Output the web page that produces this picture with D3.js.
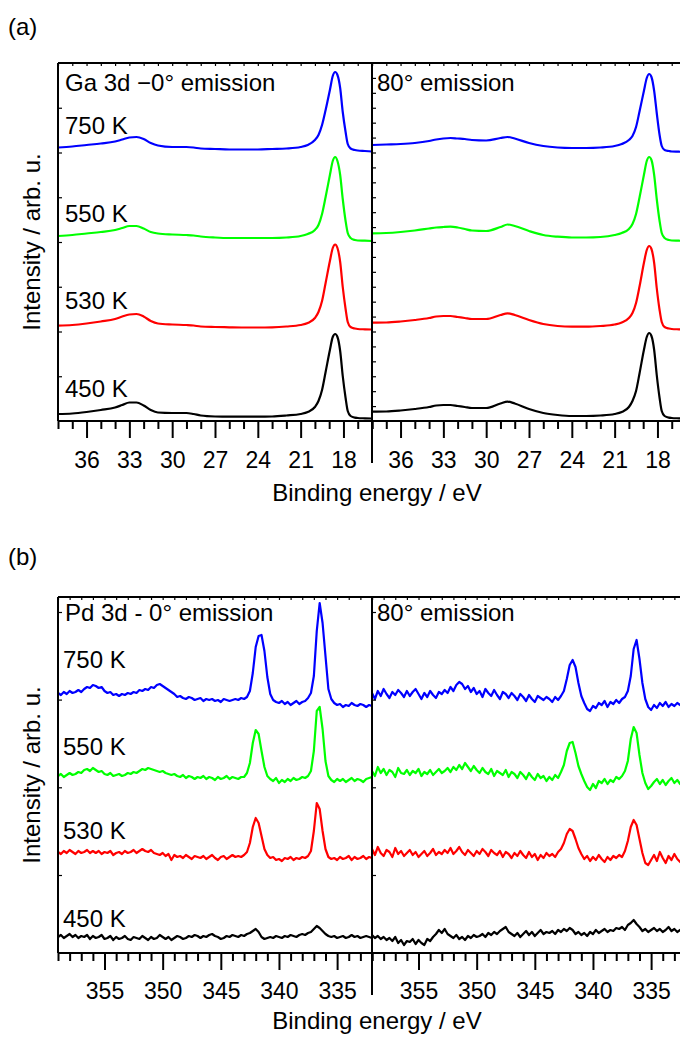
<!DOCTYPE html>
<html><head><meta charset="utf-8">
<script src="https://cdn.jsdelivr.net/npm/d3@7"></script>
<style>
body{margin:0;background:#fff}
svg{display:block}
text{font-family:"Liberation Sans",Arial,Helvetica,sans-serif;fill:#000}
</style>
</head><body>
<svg id="c" width="680" height="1041"></svg>
<script>
// ---------------- DATA ----------------
const temps = ["450 K", "530 K", "550 K", "750 K"];
const colors = ["#000000", "#ff0000", "#00ff00", "#0000ff"];

// Panel (a): Ga 3d, binding energy grid (eV)
const gaEnergy = [38, 37, 36, 35, 34, 33.5, 33, 32.5, 32, 31.5, 31, 30, 29, 28.5, 28, 27, 26, 25, 24, 23, 22, 21, 20.5, 20, 19.75, 19.5, 19.25, 18.95, 18.75, 18.58, 18.42, 18.23, 18.05, 17.85, 17.7, 17.5, 17.2, 17, 16.5, 16];
const gaOffsets = [0, 88, 178, 266];
// 0 deg emission
const ga0_450 = [7, 7.5, 9, 11, 13.5, 16, 18.5, 18.5, 15.5, 11, 8.5, 8, 8, 7, 5.5, 4.5, 4.3, 4.3, 4.3, 4.5, 5.5, 7, 9, 14, 20, 31, 49, 71, 84, 87, 84, 70, 45, 23, 10, 5, 3.3, 3, 2.7, 2.5];
const ga0_530 = [7.3, 8, 9.5, 11.5, 14, 16.5, 18.5, 19, 16.5, 12, 9.5, 8.5, 8, 7.5, 6.5, 6, 5.7, 5.5, 5.5, 5.7, 6.5, 8, 10, 15, 21, 32, 50, 72, 85, 88.5, 85, 71, 46, 24, 11, 6, 4.5, 4, 3.7, 3.5];
const ga0_550 = [7, 8, 9.5, 11, 13, 15, 17, 17, 14.5, 11, 9.5, 8.5, 8, 7.5, 6.5, 5.5, 5, 5, 5, 5, 5.5, 7, 9, 13, 18, 29, 46, 68, 82, 86, 82, 68, 44, 22, 10, 5, 3, 2.5, 2.3, 2];
const ga0_750 = [7.5, 8.5, 10, 11.5, 13.5, 15.5, 17.5, 18, 16, 12, 9.5, 8, 8, 7.5, 6.5, 6, 5.5, 5.5, 5.5, 6, 6.5, 8, 10, 15, 20, 30, 45, 65, 79, 83, 80, 67, 43, 23, 11, 6.5, 5, 4.5, 4, 3.5];
// 80 deg emission
const ga80_450 = [9.3, 9.5, 10.5, 12, 14, 15.5, 16, 16, 15, 14, 13, 13, 17.5, 19.3, 17.5, 12, 8, 6, 5, 5, 5.5, 7, 9, 14, 20, 30, 48, 71, 84, 88, 85, 71, 46, 23, 10, 5, 3.3, 3, 2.7, 2.5];
const ga80_530 = [10.3, 10.5, 11.5, 13, 15, 16.5, 17, 17, 16, 15, 14, 14, 18, 19.7, 18, 13, 9, 7, 6.3, 6.3, 7, 8.5, 10.5, 15, 20, 30, 47, 70, 83, 87, 84, 70, 45, 23, 11, 6, 4.5, 4, 3.7, 3.5];
const ga80_550 = [9.7, 10, 11, 12.5, 14.5, 15.5, 16, 16.3, 15.5, 14, 12.5, 12, 16, 18.5, 17, 12, 8, 6.3, 5.5, 5.5, 6, 8, 10, 14, 19, 29, 46, 68, 82, 86, 83, 68, 44, 22, 10, 5, 3, 2.5, 2.3, 2];
const ga80_750 = [10, 10.5, 11, 12, 14, 15.5, 16.5, 17, 16.5, 16, 15, 14.5, 17, 18, 16.5, 12, 9, 7.5, 7, 7, 7.5, 9, 11, 15, 19, 28, 44, 64, 77, 81, 78, 64, 42, 20, 9, 5, 4, 3.5, 3.3, 3];
const gaMajor = [36, 33, 30, 27, 24, 21, 18];
const gaMinor = [38, 37, 35, 34, 32, 31, 29, 28, 26, 25, 23, 22, 20, 19, 17, 16];

// Panel (b): Pd 3d, spectra recorded from 359 eV down in 0.25 eV steps
const pdStart = 359, pdStep = 0.25;
const pdOffsets = [0, 84, 162, 242];
const pd0_450 = [16,18,15,17,19,16,18,15,17,16,18,14,17, 15,16,18,14,15,17,13,16,14,15,17,14, 13,16,15,14,17,15,13,16,14,15,18,16, 14,16,13,15,17,16,14,15,17,16,18,17, 15,17,16,18,19,17,16,14,15,17,16,18, 17,16,18,17,19,20,22,24,21,16,14,15, 16,15,17,16,15,17,16,18,17,16,18,19, 18,20,21,24,27,25,22,19,17,16,17,15, 16,17,15,16,18,16,17,15,16,17,16,15];
const pd0_530 = [17,15,18,16,19,17,15,18,16,17,19,16,18, 16,18,15,17,16,18,14,16,17,15,18,16, 17,19,16,18,20,18,17,19,16,15,14,16, 13,15,9,14,12,13,11,14,12,10,13,12, 11,13,10,12,14,11,9,12,13,10,12,14, 12,13,12,14,17,26,42,51,46,33,20,14, 11,12,9,10,8,11,10,12,9,11,10,12, 11,13,18,38,66,60,38,20,12,10,11,9, 12,10,11,13,9,12,10,11,13,10,12,11];
const pd0_550 = [15,17,14,16,18,16,17,19,18,21,22,20,23, 21,19,20,17,16,18,15,16,17,15,16,18, 17,19,18,20,22,21,23,22,21,20,19,20, 18,17,16,17,15,14,16,13,15,14,12,14, 13,15,12,14,13,11,14,12,13,15,12,14, 13,12,14,14,18,28,48,61,57,40,24,15, 12,10,13,8,11,9,12,10,13,11,12,14, 13,15,20,40,80,84,62,30,15,11,9,12, 10,12,9,11,13,10,12,11,9,12,13,14];
const pd0_750 = [18,16,19,17,20,18,19,21,19,22,24,23,26, 25,23,24,20,18,19,16,17,15,17,16,18, 17,19,18,21,20,22,21,24,23,26,27,25, 23,21,19,17,14,15,13,12,14,13,11,12, 13,10,12,11,12,10,11,9,12,11,10,11, 12,11,13,12,14,20,38,64,75,76,60,34, 17,11,9,8,10,7,9,6,8,10,7,9, 10,13,18,35,80,108,88,55,22,12,8,6, 7,4,6,5,8,6,5,7,6,4,6,5];
const pd80_450 = [18,15,17,14,16,13,15,12,16,10,13,8,12, 11,14,9,13,10,8,14,12,16,19,23,20, 24,19,17,15,18,14,16,13,17,15,18,16, 17,19,16,20,18,21,19,22,24,26,21,19, 17,20,16,19,22,18,21,17,20,23,19,21, 20,22,19,23,21,24,22,25,23,19,21,18, 20,17,21,19,23,20,22,24,21,23,22,25, 24,26,23,28,30,33,29,26,22,24,21,23, 25,22,24,21,23,26,22,24,21,23,25,22];
const pd80_530 = [20,14,22,16,13,19,17,12,21,15,18,13,16, 19,14,17,12,15,18,13,16,20,14,17,15, 19,16,21,15,18,22,17,14,19,16,13,18, 15,20,17,13,19,16,14,18,12,17,15,11, 16,13,18,14,11,17,12,15,9,14,11,16, 13,15,12,17,20,26,35,40,38,30,21,15, 10,13,8,12,9,14,10,7,12,9,13,11, 14,12,18,28,42,49,44,30,16,6,4,9, 14,8,17,11,6,13,9,15,10,7,12,9];
const pd80_550 = [20,15,24,18,22,16,21,19,14,23,18,17,21, 16,20,18,22,15,19,17,21,16,19,22,18, 20,23,19,24,21,26,22,28,24,20,25,21, 18,23,19,17,22,15,20,18,16,21,14,19, 17,13,19,16,12,18,14,11,17,13,15,10, 14,11,16,13,19,26,40,48,49,38,25,17, 10,4,1,7,3,10,8,12,7,11,9,14, 12,15,20,30,52,64,58,36,18,8,2,5, 9,12,7,11,6,10,13,8,11,7,12,9];
const pd80_750 = [18,12,20,15,22,17,13,19,16,21,18,14,20, 15,19,22,17,12,18,14,20,16,13,19,17, 21,18,24,20,26,29,27,22,25,19,23,17, 20,14,22,18,15,21,16,12,19,17,13,18, 15,11,17,14,10,16,12,9,15,13,11,14, 12,9,14,11,15,20,32,46,51,44,28,15, 8,2,0,5,3,8,6,10,4,9,7,11, 8,12,14,20,35,62,71,52,28,12,4,1, 6,3,8,5,9,4,7,5,8,6,4,7];
const pdMajor = [355, 350, 345, 340, 335];
const pdMinor = [359, 358, 357, 356, 354, 353, 352, 351, 349, 348, 347, 346, 344, 343, 342, 341, 339, 338, 337, 336, 334, 333, 332];

const pdEnergy = pd0_450.map((_, i) => pdStart - i * pdStep);

// ---------------- DRAWING ----------------
const svg = d3.select("#c");
const FONT = 24;

function drawPanel(p) {
  const g = svg.append("g");
  const y = d3.scaleLinear().domain(p.yDomain).range([p.axisY, p.topY]);
  p.halves.forEach((h, hi) => {
    const x = d3.scaleLinear().domain(p.xDomain).range(h.range);
    const line = d3.line()
      .defined(d => d[1] != null && !isNaN(d[1]))
      .x(d => x(d[0])).y(d => y(d[1])).curve(p.curve);
    h.series.forEach((s, k) => {
      const pts = p.energy.map((e, i) => [e, s[i] + p.offsets[k]]);
      g.append("path").attr("d", line(pts))
        .attr("fill", "none").attr("stroke", colors[k])
        .attr("stroke-width", 2.2).attr("stroke-linejoin", "round");
    });
    // bottom minor ticks
    const axMinor = g.append("g").attr("transform", `translate(0,${p.axisY})`)
      .call(d3.axisBottom(x).tickValues(p.minor).tickSize(8).tickFormat(""));
    axMinor.select(".domain").remove();
    axMinor.selectAll("line").attr("stroke", "#000").attr("stroke-width", 2);
    // bottom major ticks + labels
    const axMajor = g.append("g").attr("transform", `translate(0,${p.axisY})`)
      .call(d3.axisBottom(x).tickValues(p.major).tickSize(17).tickPadding(p.tickPad).tickFormat(d3.format("d")));
    axMajor.select(".domain").remove();
    axMajor.selectAll("line").attr("stroke", "#000").attr("stroke-width", 2);
    axMajor.selectAll("text").attr("font-size", 23).attr("fill", "#000")
      .attr("font-family", '"Liberation Sans",Arial,sans-serif');
    // top inward ticks
    const axTop = g.append("g").attr("transform", `translate(0,${p.topY})`)
      .call(d3.axisBottom(x).tickValues(p.minor.concat(p.major)).tickSize(3).tickFormat(""));
    axTop.select(".domain").remove();
    axTop.selectAll("line").attr("stroke", "#000").attr("stroke-width", 1.2);
    // left inward y ticks
    const axY = g.append("g").attr("transform", `translate(${h.range[0]},0)`)
      .call(d3.axisRight(y).tickValues(h.yTicks).tickSize(4).tickFormat(""));
    axY.select(".domain").remove();
    axY.selectAll("line").attr("stroke", "#000").attr("stroke-width", 1.2);
    // panel titles
    g.append("text").attr("x", h.range[0] + h.titleDx).attr("y", p.titleY)
      .attr("font-size", FONT).text(h.title);
  });
  // frame
  const L = p.halves[0].range[0], R = p.halves[1].range[1], D = p.halves[1].range[0];
  g.append("line").attr("x1", L).attr("x2", R).attr("y1", p.topY).attr("y2", p.topY)
    .attr("stroke", "#000").attr("stroke-width", 2);
  g.append("line").attr("x1", L).attr("x2", R).attr("y1", p.axisY).attr("y2", p.axisY)
    .attr("stroke", "#000").attr("stroke-width", 2);
  g.append("line").attr("x1", L).attr("x2", L).attr("y1", p.topY).attr("y2", p.axisY)
    .attr("stroke", "#000").attr("stroke-width", 2);
  g.append("line").attr("x1", D).attr("x2", D).attr("y1", p.topY).attr("y2", p.axisY + 42)
    .attr("stroke", "#000").attr("stroke-width", 2);
  // temperature labels
  temps.forEach((t, k) => {
    g.append("text").attr("x", p.labelX).attr("y", p.labelY[k]).attr("font-size", FONT).text(t);
  });
  // axis titles
  g.append("text").attr("x", 377).attr("y", p.xTitleY).attr("text-anchor", "middle")
    .attr("font-size", FONT).text("Binding energy / eV");
  g.append("text").attr("transform", `translate(40,${(p.topY + p.axisY) / 2}) rotate(-90)`)
    .attr("text-anchor", "middle").attr("font-size", FONT).text("Intensity / arb. u.");
  g.append("text").attr("x", 8).attr("y", p.tagY).attr("font-size", FONT).text(p.tag);
}

drawPanel({
  tag: "(a)", tagY: 35,
  topY: 63, axisY: 421, yDomain: [0, 358], xDomain: [38, 16],
  energy: gaEnergy, offsets: gaOffsets, curve: d3.curveMonotoneX,
  major: gaMajor, minor: gaMinor, tickPad: 14,
  titleY: 91, xTitleY: 501,
  labelX: 65, labelY: [397, 309, 222, 134],
  halves: [
    { range: [58, 372], series: [ga0_450, ga0_530, ga0_550, ga0_750], title: "Ga 3d \u22120\u00b0 emission", titleDx: 7,
      yTicks: [44.75, 89.5, 134.25, 179, 223.75, 268.5, 313.25] },
    { range: [372, 686], series: [ga80_450, ga80_530, ga80_550, ga80_750], title: "80\u00b0 emission", titleDx: 5,
      yTicks: d3.range(1, 24).map(k => k * 358 / 24) }
  ]
});

drawPanel({
  tag: "(b)", tagY: 565,
  topY: 597, axisY: 953, yDomain: [0, 356], xDomain: [359, 332],
  energy: pdEnergy, offsets: pdOffsets, curve: d3.curveLinear,
  major: pdMajor, minor: pdMinor, tickPad: 13,
  titleY: 621, xTitleY: 1029,
  labelX: 63, labelY: [927, 839, 755, 668],
  halves: [
    { range: [58, 372], series: [pd0_450, pd0_530, pd0_550, pd0_750], title: "Pd 3d - 0\u00b0 emission", titleDx: 7,
      yTicks: [78, 165.7, 253.4, 341] },
    { range: [372, 686], series: [pd80_450, pd80_530, pd80_550, pd80_750], title: "80\u00b0 emission", titleDx: 5,
      yTicks: [78, 165.7, 253.4, 341] }
  ]
});
</script>
</body></html>
